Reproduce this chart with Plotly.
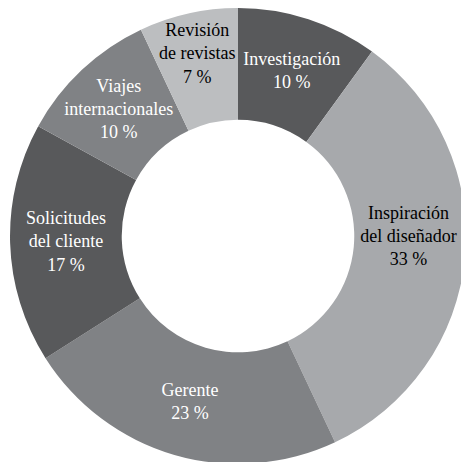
import plotly.graph_objects as go

# Slices, clockwise from 12 o'clock
categorias = [
    "Investigación",
    "Inspiración<br>del diseñador",
    "Gerente",
    "Solicitudes<br>del cliente",
    "Viajes<br>internacionales",
    "Revisión<br>de revistas",
]
porcentajes = [10, 33, 23, 17, 10, 7]

colores = ["#58595b", "#a7a9ac", "#808285", "#58595b", "#808285", "#bcbec0"]
colores_texto = ["white", "black", "white", "white", "white", "black"]

fig = go.Figure(
    go.Pie(
        labels=categorias,
        values=porcentajes,
        sort=False,
        direction="clockwise",
        rotation=0,
        hole=0.51,
        marker=dict(colors=colores, line=dict(width=0)),
        texttemplate="%{label}<br>%{value} %",
        textposition="inside",
        insidetextorientation="horizontal",
        textfont=dict(family="Liberation Serif", size=18, color=colores_texto),
        domain=dict(x=[0.0043, 0.9765], y=[0.013, 1.0]),
        showlegend=False,
        hoverinfo="label+percent",
    )
)

fig.update_layout(
    width=469,
    height=462,
    margin=dict(l=0, r=0, t=0, b=0),
    paper_bgcolor="white",
    plot_bgcolor="white",
    uniformtext=dict(minsize=18, mode="show"),
)

fig.write_html("out.html")
